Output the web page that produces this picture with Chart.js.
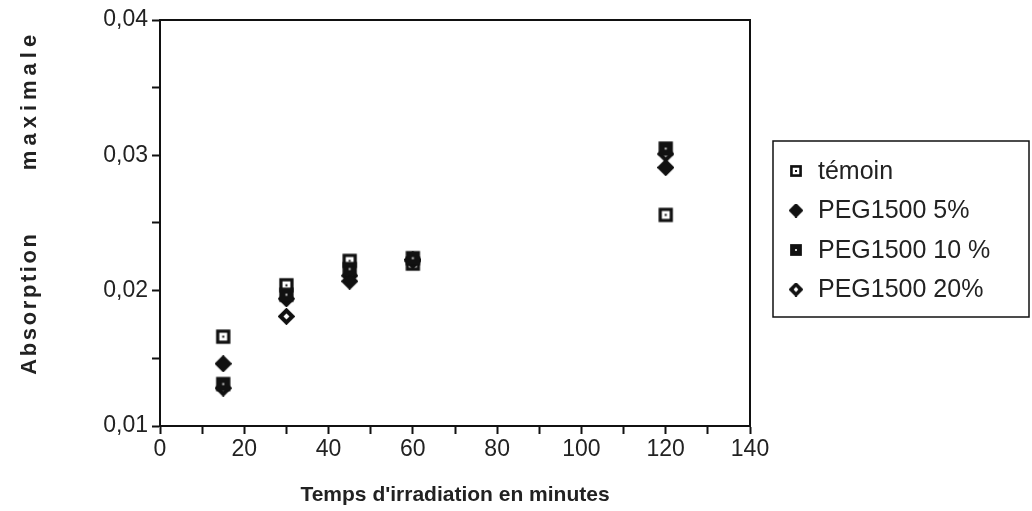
<!DOCTYPE html>
<html>
<head>
<meta charset="utf-8">
<script src="https://cdn.jsdelivr.net/npm/chart.js@4"></script>
<style>
  html, body { margin: 0; padding: 0; background: #fff; }
  #wrap { width: 1032px; height: 511px; }
</style>
</head>
<body>
<div id="wrap"><canvas id="myChart" width="1032" height="511"></canvas></div>
<script>
// data
let times = [15, 30, 45, 60, 120];
let seriesNames = ["témoin", "PEG1500 5%", "PEG1500 10 %", "PEG1500 20%"];
let temoin = [0.0166, 0.0204, 0.0222, 0.022, 0.0256];
let peg5 = [0.0146, 0.0194, 0.0207, 0.0222, 0.0291];
let peg10 = [0.0131, 0.0197, 0.0216, 0.0224, 0.0305];
let peg20 = [0.0128, 0.0181, 0.0211, 0.0223, 0.0301];
let yTicks = [0.01, 0.02, 0.03, 0.04];
let xTicks = [0, 20, 40, 60, 80, 100, 120, 140];

let xTitle = "Temps d'irradiation en minutes";
let yTitleWords = ["Absorption", "maximale"];

// little marker pictures, used as pointStyle
function makeMarker(kind, size) {
  let c = document.createElement("canvas");
  c.width = size;
  c.height = size;
  let ctx = c.getContext("2d");
  let m = size / 2;
  let h = size * 0.42;
  ctx.fillStyle = "#111";
  if (kind == "openSquare") {
    ctx.fillRect(m - h, m - h, 2 * h, 2 * h);
    ctx.fillStyle = "#fff";
    ctx.fillRect(m - h * 0.55, m - h * 0.55, h * 1.1, h * 1.1);
    ctx.fillStyle = "#111";
    ctx.fillRect(m - 1, m - 1, 2, 2);
  } else if (kind == "fullSquare") {
    ctx.fillRect(m - h, m - h, 2 * h, 2 * h);
    ctx.fillStyle = "#ccc";
    ctx.fillRect(m - 1, m - 1, 2, 2);
  } else {
    let d = size * 0.46;
    ctx.beginPath();
    ctx.moveTo(m, m - d);
    ctx.lineTo(m + d, m);
    ctx.lineTo(m, m + d);
    ctx.lineTo(m - d, m);
    ctx.closePath();
    ctx.lineJoin = "round";
    ctx.lineWidth = 1.5;
    ctx.strokeStyle = "#111";
    ctx.fill();
    ctx.stroke();
    if (kind == "openDiamond") {
      let e = d * 0.38;
      ctx.fillStyle = "#fff";
      ctx.beginPath();
      ctx.moveTo(m, m - e);
      ctx.lineTo(m + e, m);
      ctx.lineTo(m, m + e);
      ctx.lineTo(m - e, m);
      ctx.closePath();
      ctx.fill();
    }
  }
  return c;
}

let kinds = ["openSquare", "fullDiamond", "fullSquare", "openDiamond"];
let markers = [];
let legendMarkers = [];
for (let k of kinds) {
  markers.push(makeMarker(k, 17));
  legendMarkers.push(makeMarker(k, 14));
}

function toPoints(values) {
  let pts = [];
  for (let i = 0; i < times.length; i++) {
    pts.push({ x: times[i], y: values[i] });
  }
  return pts;
}

let allValues = [temoin, peg5, peg10, peg20];
let drawOrder = [4, 2, 1, 3];
let datasets = [];
for (let i = 0; i < seriesNames.length; i++) {
  datasets.push({
    label: seriesNames[i],
    data: toPoints(allValues[i]),
    pointStyle: markers[i],
    order: drawOrder[i],
    showLine: false,
  });
}

const frameAndLegend = {
  id: "frameAndLegend",
  afterDraw(chart) {
    let ctx = chart.ctx;
    let area = chart.chartArea;
    ctx.save();
    // box round the plot
    ctx.strokeStyle = "#111";
    ctx.lineWidth = 2;
    ctx.strokeRect(area.left, area.top, area.right - area.left, area.bottom - area.top);

    // y title, spaced letters
    ctx.fillStyle = "#222";
    ctx.font = "bold 22px 'Liberation Sans', Arial, sans-serif";
    ctx.textAlign = "center";
    ctx.textBaseline = "middle";
    ctx.translate(30, 0);
    ctx.rotate(-Math.PI / 2);
    ctx.letterSpacing = "2.6px";
    ctx.fillText(yTitleWords[0], -303, 0);
    ctx.letterSpacing = "5px";
    ctx.fillText(yTitleWords[1], -100, 0);
    ctx.setTransform(1, 0, 0, 1, 0, 0);
    ctx.letterSpacing = "0px";

    // legend box
    ctx.lineWidth = 1.5;
    ctx.strokeRect(773, 141, 256, 176);
    ctx.font = "25px 'Liberation Sans', Arial, sans-serif";
    ctx.textAlign = "left";
    for (let i = 0; i < seriesNames.length; i++) {
      let y = 171 + i * 39.5;
      ctx.drawImage(legendMarkers[i], 796 - 7, y - 7);
      ctx.fillText(seriesNames[i], 818, y + 1);
    }
    ctx.restore();
  },
};

const ctx = document.getElementById("myChart");

new Chart(ctx, {
  type: "scatter",
  data: { datasets: datasets },
  plugins: [frameAndLegend],
  options: {
    responsive: false,
    animation: false,
    events: [],
    layout: {
      padding: { left: 0, top: 20, right: 282, bottom: 0 },
    },
    scales: {
      x: {
        type: "linear",
        min: 0,
        max: 140,
        afterFit(scale) {
          scale.height = 85;
        },
        afterBuildTicks(scale) {
          scale.ticks = [];
          for (let v = 0; v <= 140; v += 10) scale.ticks.push({ value: v });
        },
        ticks: {
          color: "#222",
          padding: 2,
          maxRotation: 0,
          autoSkip: false,
          font: { family: "'Liberation Sans', Arial, sans-serif", size: 23 },
          callback: function (value) {
            return xTicks.includes(value) ? String(value) : "";
          },
        },
        grid: {
          display: true,
          drawOnChartArea: false,
          tickLength: 8,
          tickWidth: 2,
          tickColor: "#111",
        },
        border: { color: "#111", width: 2 },
        title: {
          display: true,
          text: xTitle,
          color: "#222",
          font: { family: "'Liberation Sans', Arial, sans-serif", size: 21, weight: "bold" },
          padding: { top: 0, bottom: 3 },
        },
      },
      y: {
        type: "linear",
        min: 0.01,
        max: 0.04,
        afterFit(scale) {
          scale.width = 160;
        },
        afterBuildTicks(scale) {
          scale.ticks = [];
          for (let k = 0; k <= 6; k++) scale.ticks.push({ value: 0.01 + k * 0.005 });
        },
        ticks: {
          color: "#222",
          padding: 4,
          autoSkip: false,
          font: { family: "'Liberation Sans', Arial, sans-serif", size: 23 },
          callback: function (value) {
            for (let t of yTicks) {
              if (Math.abs(t - value) < 1e-6) return t.toFixed(2).replace(".", ",");
            }
            return "";
          },
        },
        grid: {
          display: true,
          drawOnChartArea: false,
          tickLength: 8,
          tickWidth: 2,
          tickColor: "#111",
        },
        border: { color: "#111", width: 2 },
      },
    },
    plugins: {
      legend: { display: false },
      tooltip: { enabled: false },
    },
  },
});
</script>
</body>
</html>
